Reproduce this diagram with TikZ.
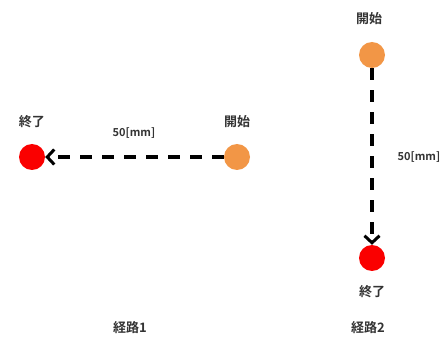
\documentclass[tikz,border=0pt]{standalone}
\usepackage{fontspec}
\newfontfamily\jp{Noto Sans CJK JP}[BoldFont={Noto Sans CJK JP Bold}]
\usetikzlibrary{arrows.meta}
\definecolor{startc}{RGB}{242,150,70}
\definecolor{endc}{RGB}{250,0,0}
\begin{document}
\begin{tikzpicture}[x=1pt,y=1pt,
  dot/.style={circle,inner sep=0pt,minimum size=26pt},
  startdot/.style={dot,fill=startc},
  enddot/.style={dot,fill=endc},
  lbl/.style={font=\jp\bfseries\fontsize{13}{15}\selectfont,text=black!80,inner sep=0pt},
  dimlbl/.style={font=\jp\bfseries\fontsize{11}{13}\selectfont,text=black!80,inner sep=0pt},
  route/.style={line width=3.2pt,dash pattern=on 12pt off 10pt,-{Straight Barb[length=7pt,width=15pt,line width=3pt]}}]
\useasboundingbox (0,0) rectangle (448,338);
% route 1
\node[enddot] (e1) at (32,181) {};
\node[startdot] (s1) at (237,181) {};
\node[lbl] (le1) at (32,216) {終了};
\node[lbl] (ls1) at (237,216) {開始};
\node[dimlbl] (d1) at (134,205) {50[mm]};
\draw[route] (s1.west) -- (e1.east);
% route 2
\node[startdot] (s2) at (372,283) {};
\node[enddot] (e2) at (372,80) {};
\node[lbl] (ls2) at (369,319) {開始};
\node[lbl] (le2) at (372,46) {終了};
\node[dimlbl] (d2) at (419,181) {50[mm]};
\draw[route] (s2.south) -- (e2.north);
% captions
\node[lbl] (c1) at (130,10) {経路1};
\node[lbl] (c2) at (368,10) {経路2};
\end{tikzpicture}
\end{document}
